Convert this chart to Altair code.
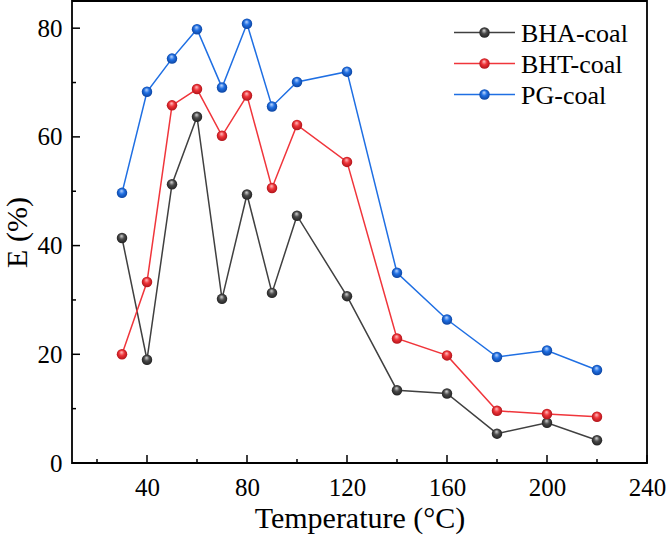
import altair as alt
import pandas as pd

# Extraction temperature (°C)
temperature = [30, 40, 50, 60, 70, 80, 90, 100, 120, 140, 160, 180, 200, 220]

# Extraction efficiency E (%) for each sample
bha_coal = [41.4, 19.0, 51.3, 63.7, 30.2, 49.4, 31.3, 45.5, 30.7, 13.4, 12.8, 5.4, 7.4, 4.2]
bht_coal = [20.0, 33.3, 65.8, 68.8, 60.2, 67.6, 50.6, 62.2, 55.4, 22.9, 19.8, 9.6, 9.0, 8.5]
pg_coal = [49.7, 68.3, 74.4, 79.8, 69.1, 80.8, 65.6, 70.1, 72.0, 35.0, 26.4, 19.5, 20.7, 17.1]

series_names = ["BHA-coal", "BHT-coal", "PG-coal"]
series_values = [bha_coal, bht_coal, pg_coal]

# Line colours and (highlight, body, shadow) colours of the shaded balls
line_colors = ["#404040", "#f0353b", "#1f6fe3"]
ball_colors = [
    ("#e6e6e6", "#4a4a4a", "#1e1e1e"),
    ("#ffd0d0", "#ef3338", "#a81016"),
    ("#cfe2ff", "#1f6fe3", "#0b3f98"),
]

# Axis ticks
x_major = [40, 80, 120, 160, 200, 240]
x_minor = [20, 60, 100, 140, 180, 220]
y_major = [0, 20, 40, 60, 80]
y_minor = [10, 30, 50, 70]

W, H = 575, 462
FONT = "Liberation Serif"
BALL = 110

df = pd.DataFrame(
    [
        {"T": t, "E": e, "series": name}
        for name, vals in zip(series_names, series_values)
        for t, e in zip(temperature, vals)
    ]
)

x_scale = alt.Scale(domain=[10, 240], nice=False, zero=False)
y_scale = alt.Scale(domain=[0, 85], nice=False, zero=False)
c_scale = alt.Scale(domain=series_names, range=line_colors)

x_axis = alt.Axis(
    values=x_major, ticks=False, tickSize=0, domain=False, grid=False,
    labelFont=FONT, labelFontSize=25, labelColor="black",
    labelBaseline="alphabetic", labelPadding=32, labelFlush=False, labelOverlap=False,
    title="Temperature (°C)", titleFont=FONT, titleFontSize=30,
    titleFontWeight="normal", titleColor="black",
    titleBaseline="alphabetic", titleY=64,
)
y_axis = alt.Axis(
    values=y_major, ticks=False, tickSize=0, domain=False, grid=False,
    labelFont=FONT, labelFontSize=25, labelColor="black",
    labelPadding=10, labelOverlap=False,
    title="E (%)", titleFont=FONT, titleFontSize=30,
    titleFontWeight="normal", titleColor="black",
    titleBaseline="alphabetic", titleX=-46,
)

X = alt.X("T:Q", scale=x_scale, axis=x_axis)
Y = alt.Y("E:Q", scale=y_scale, axis=y_axis)

base = alt.Chart(df)

lines = base.mark_line(strokeWidth=1.5).encode(
    x=X, y=Y, color=alt.Color("series:N", scale=c_scale, legend=None)
)


def ball_fill(hi, body, shade):
    """Radial gradient that gives a circle a glossy, spherical look."""
    return alt.RadialGradient(
        gradient="radial",
        x1=0.45, y1=0.28, r1=0.0,
        x2=0.5, y2=0.5, r2=0.55,
        stops=[
            alt.GradientStop(color=hi, offset=0.0),
            alt.GradientStop(color=body, offset=0.45),
            alt.GradientStop(color=shade, offset=1.0),
        ],
    )


balls = []
for name, cols in zip(series_names, ball_colors):
    balls.append(
        base.transform_filter(alt.datum.series == name)
        .mark_circle(size=BALL, opacity=1, fill=ball_fill(*cols), strokeWidth=0)
        .encode(x=alt.X("T:Q", scale=x_scale), y=alt.Y("E:Q", scale=y_scale))
    )

# Inward tick marks on the bottom and left axes
def tick_layer(values, channel, length):
    data = alt.Chart(pd.DataFrame({"v": values})).mark_rule(color="black", strokeWidth=1.5)
    if channel == "x":
        return data.encode(x=alt.X("v:Q", scale=x_scale), y=alt.value(H), y2=alt.value(H - length))
    return data.encode(y=alt.Y("v:Q", scale=y_scale), x=alt.value(0), x2=alt.value(length))


ticks = [
    tick_layer(x_major, "x", 8),
    tick_layer(x_minor, "x", 4),
    tick_layer(y_major, "y", 8),
    tick_layer(y_minor, "y", 4),
]

# Legend: line segment with a ball and the sample name, one row per series
LEG_X, LEG_Y, LEG_ROW = 382, 31.5, 31
legend_layers = []
for i, (name, color, cols) in enumerate(zip(series_names, line_colors, ball_colors)):
    row = alt.Chart(pd.DataFrame({"series": [name]}))
    ly = LEG_Y + i * LEG_ROW
    legend_layers += [
        row.mark_rule(color=color, strokeWidth=1.5).encode(
            x=alt.value(LEG_X), x2=alt.value(LEG_X + 61), y=alt.value(ly)
        ),
        row.mark_circle(size=BALL, opacity=1, fill=ball_fill(*cols), strokeWidth=0).encode(
            x=alt.value(LEG_X + 30.5), y=alt.value(ly)
        ),
        row.mark_text(
            align="left", baseline="middle", font=FONT, fontSize=26, color="black", dy=1
        ).encode(x=alt.value(LEG_X + 67), y=alt.value(ly), text="series:N"),
    ]

chart = (
    alt.layer(lines, *balls, *ticks, *legend_layers)
    .properties(
        width=W, height=H,
        autosize=alt.AutoSizeParams(type="none"),
        padding={"left": 72, "top": 1, "right": 19, "bottom": 74},
        background="white",
    )
    .configure_view(stroke="black", strokeWidth=1.8)
)

chart.save("out.html", embed_options={"renderer": "svg", "actions": False})
